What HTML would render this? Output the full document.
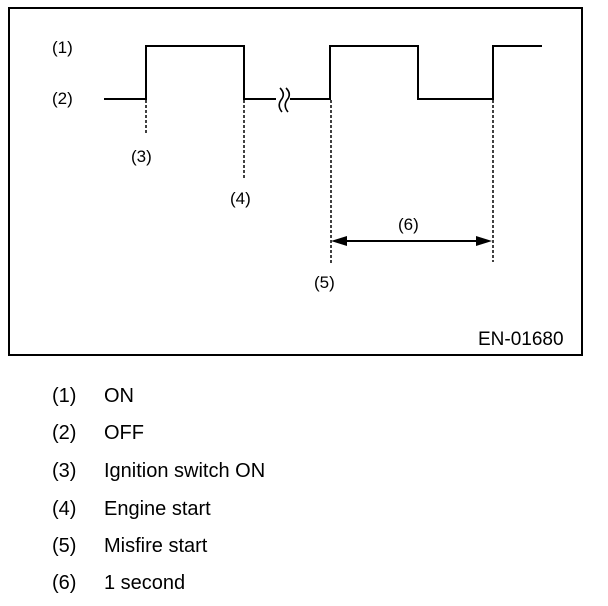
<!DOCTYPE html>
<html><head><style>
body{margin:0;background:#fff;width:608px;height:606px;overflow:hidden;font-family:"Liberation Sans",sans-serif;}
.l{position:absolute;font-size:20px;color:#000;}
.s{font-size:17px;}
</style></head><body>
<svg width="608" height="606" style="position:absolute;left:0;top:0">
<rect x="9" y="8" width="573" height="347" fill="none" stroke="#000" stroke-width="2"/>
<polyline points="104,99 146,99 146,46 244,46 244,99 330,99 330,46 418,46 418,99 493,99 493,46 542,46" fill="none" stroke="#000" stroke-width="2"/>
<rect x="276" y="92" width="14" height="14" fill="#fff"/>
<path d="M280,88 q6,6 1,12 q-4,6 1,12 M286,88 q6,6 1,12 q-4,6 1,12" fill="none" stroke="#000" stroke-width="1.6"/>
<g stroke="#000" stroke-width="1.5" stroke-dasharray="3,2">
<line x1="146" y1="100" x2="146" y2="135"/>
<line x1="244" y1="100" x2="244" y2="180"/>
<line x1="331" y1="100" x2="331" y2="265"/>
<line x1="493" y1="100" x2="493" y2="262"/>
</g>
<line x1="342" y1="241" x2="481" y2="241" stroke="#000" stroke-width="2"/>
<polygon points="331,241 347,236 347,246" fill="#000"/>
<polygon points="492,241 476,236 476,246" fill="#000"/>
</svg>
<div class="l s" style="left:52px;top:38px">(1)</div>
<div class="l s" style="left:52px;top:89px">(2)</div>
<div class="l s" style="left:131px;top:147px">(3)</div>
<div class="l s" style="left:230px;top:189px">(4)</div>
<div class="l s" style="left:314px;top:273px">(5)</div>
<div class="l s" style="left:398px;top:215px">(6)</div>
<div class="l" style="left:478px;top:329px;font-size:19px">EN-01680</div>
<div class="l" style="left:52px;top:385px">(1)</div><div class="l" style="left:104px;top:385px">ON</div>
<div class="l" style="left:52px;top:422px">(2)</div><div class="l" style="left:104px;top:422px">OFF</div>
<div class="l" style="left:52px;top:460px">(3)</div><div class="l" style="left:104px;top:460px">Ignition switch ON</div>
<div class="l" style="left:52px;top:498px">(4)</div><div class="l" style="left:104px;top:498px">Engine start</div>
<div class="l" style="left:52px;top:535px">(5)</div><div class="l" style="left:104px;top:535px">Misfire start</div>
<div class="l" style="left:52px;top:572px">(6)</div><div class="l" style="left:104px;top:572px">1 second</div>
</body></html>
